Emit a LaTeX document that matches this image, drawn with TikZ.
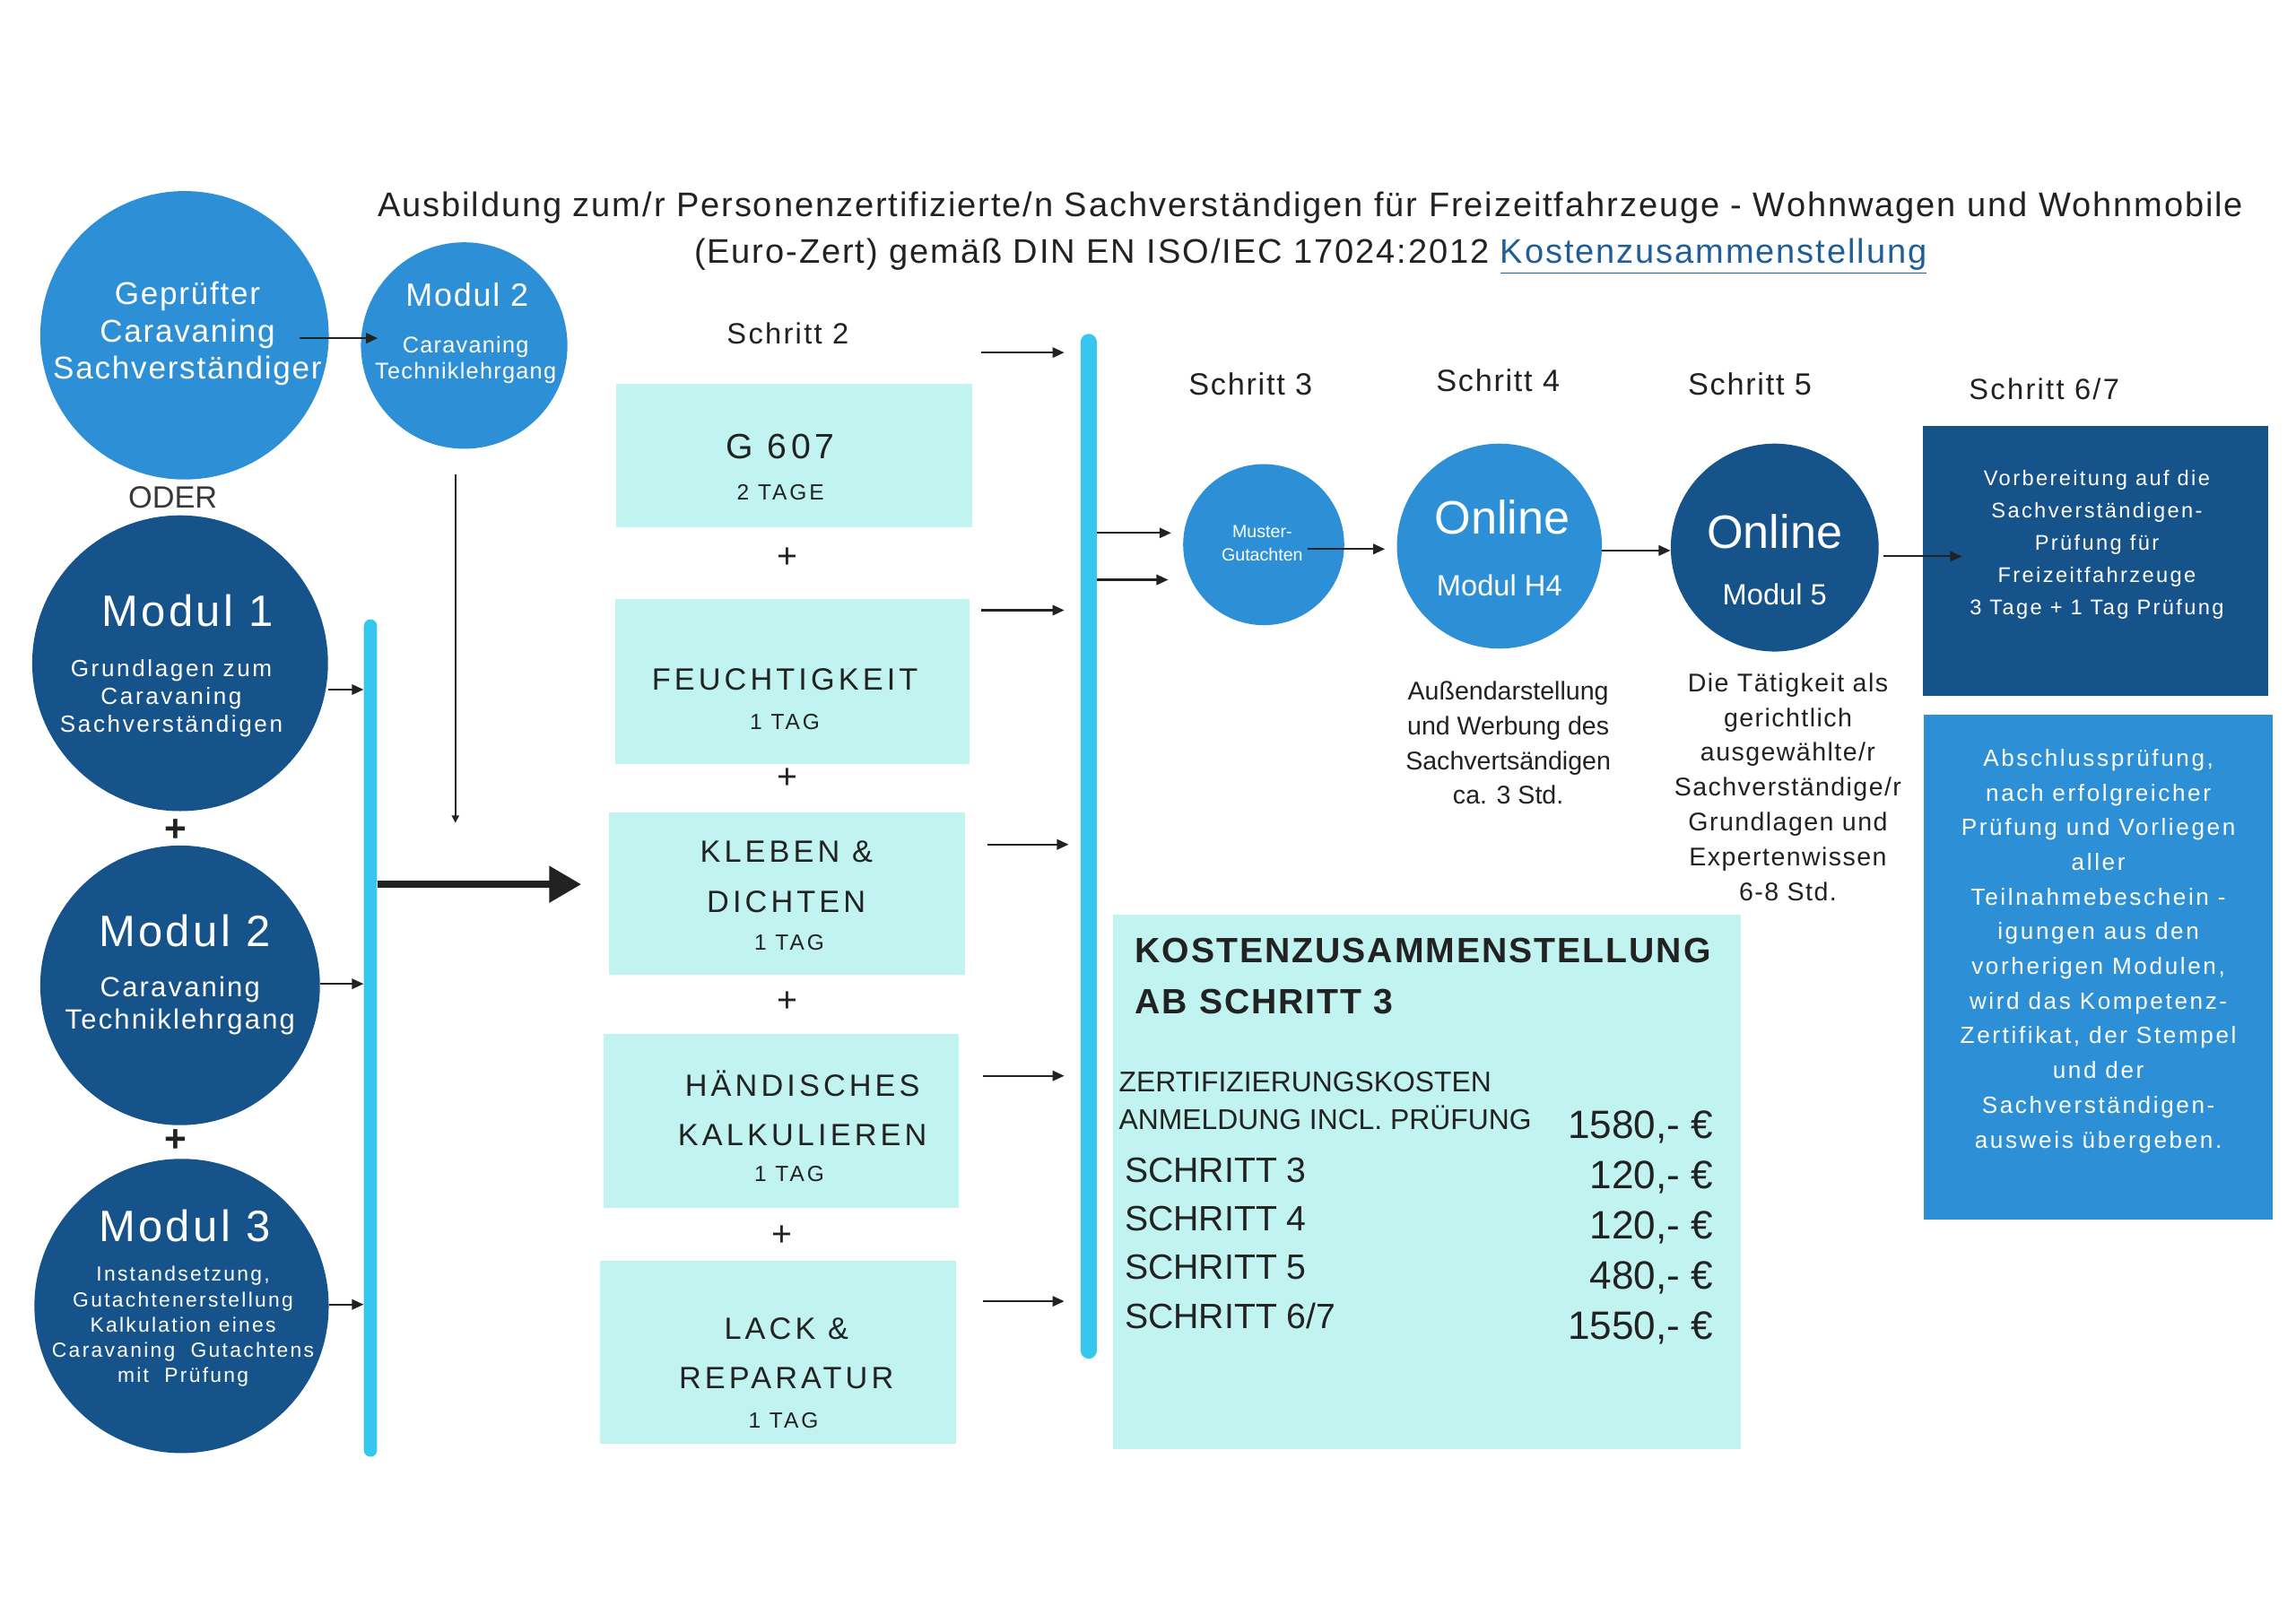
\documentclass[tikz,border=0pt]{standalone}
\usepackage{fontspec}
\setmainfont{Liberation Sans}
\newfontfamily\lsA[LetterSpace=5]{Liberation Sans}
\newfontfamily\lsB[LetterSpace=7]{Liberation Sans}
\newfontfamily\lsC[LetterSpace=10]{Liberation Sans}
\newfontfamily\lsD[LetterSpace=12]{Liberation Sans}
\usetikzlibrary{arrows.meta,calc}
\definecolor{midblue}{HTML}{2D90D6}
\definecolor{darkblue}{HTML}{15538A}
\definecolor{barcyan}{HTML}{36C6EE}
\definecolor{lightcyan}{HTML}{C1F3F0}
\definecolor{linkblue}{HTML}{1F5E99}
\definecolor{ink}{HTML}{222222}
\begin{document}
\begin{tikzpicture}[x=1pt,y=-1pt,
  arr/.style={-{Triangle[length=8pt,width=7pt]}, line width=1.3pt, draw=ink},
  mid/.style={circle, fill=midblue, inner sep=0},
  dark/.style={circle, fill=darkblue, inner sep=0},
  lbox/.style={rectangle, fill=lightcyan, inner sep=0},
  bar/.style={rectangle, fill=barcyan, inner sep=0},
  txt/.style={inner sep=0, align=center, text=ink},
  wtxt/.style={inner sep=0, align=center, text=white},
  plus/.style={txt, font=\fontsize{24}{26}\selectfont},
  boxt/.style={txt, font=\lsD\fontsize{21}{34}\selectfont},
  tagt/.style={txt, font=\lsD\fontsize{15}{17}\selectfont},
  steplbl/.style={txt, font=\lsA\fontsize{21}{24}\selectfont},
]
\useasboundingbox (0,0) rectangle (1568,1109);
\fill[white] (0,0) rectangle (1568,1109);

% title
\node[txt, font=\lsA\fontsize{23.3}{32}\selectfont] (title) at (895,159)
  {Ausbildung zum/r Personenzertifizierte/n Sachverständigen für Freizeitfahrzeuge - Wohnwagen und Wohnmobile\\
   (Euro-Zert) gemäß DIN EN ISO/IEC 17024:2012 \textcolor{linkblue}{\underline{Kostenzusammenstellung}}};

% top left circles
\node[mid, minimum size=197pt] (gep) at (126,229) {};
\node[wtxt, font=\lsA\fontsize{21.5}{25.5}\selectfont] (gept) at (128,228) {Geprüfter\\Caravaning\\Sachverständiger};
\node[mid, minimum size=141pt] (m2a) at (317,236) {};
\node[wtxt, font=\lsA\fontsize{22}{24}\selectfont] (m2at) at (319,201) {Modul 2};
\node[wtxt, font=\lsA\fontsize{15.5}{18}\selectfont] (m2as) at (318,246) {Caravaning\\Techniklehrgang};
\draw[arr] ([xshift=-20pt,yshift=-2pt]gep.east) -- ([xshift=-59pt,yshift=5pt]m2a.center);
\coordinate (m2down) at (311,562);
\draw[-{Triangle[length=5pt,width=5pt]}, line width=1pt, draw=ink] ([xshift=-6pt,yshift=-17pt]m2a.south) -- (m2down);

\node[txt, font=\fontsize{21}{24}\selectfont, text=black!78] (oder) at (118,340) {ODER};

% Modul circles
\node[dark, minimum size=202pt] (m1) at (123,453) {};
\node[wtxt, font=\lsB\fontsize{30}{32}\selectfont] (m1h) at (128,417) {Modul 1};
\node[wtxt, font=\lsC\fontsize{16}{19.2}\selectfont] (m1s) at (117,477) {Grundlagen zum\\Caravaning\\Sachverständigen};
\node[plus, font=\bfseries\fontsize{26}{28}\selectfont] (p1) at (120,567) {+};
\node[dark, minimum size=191pt] (m2) at (123,673) {};
\node[wtxt, font=\lsB\fontsize{30}{32}\selectfont] (m2h) at (126,636) {Modul 2};
\node[wtxt, font=\lsB\fontsize{19}{22}\selectfont] (m2s) at (123,687) {Caravaning\\Techniklehrgang};
\node[plus, font=\bfseries\fontsize{26}{28}\selectfont] (p2) at (120,779) {+};
\node[dark, minimum size=201pt] (m3) at (124,892) {};
\node[wtxt, font=\lsB\fontsize{30}{32}\selectfont] (m3h) at (126,837) {Modul 3};
\node[wtxt, font=\lsC\fontsize{14}{17.2}\selectfont] (m3s) at (125,906)
  {Instandsetzung,\\Gutachtenerstellung\\Kalkulation eines\\Caravaning\ \ Gutachtens\\mit\ \ Prüfung};

\node[bar, minimum width=9pt, minimum height=572pt, rounded corners=4.5pt] (bar1) at (253,709) {};
\draw[arr] ([yshift=-18pt]m1.east) -- ([yshift=-18pt]m1.east -| bar1.west);
\draw[arr] ([yshift=1pt]m2.east) -- ([yshift=1pt]m2.east -| bar1.west);
\draw[arr] ([yshift=1pt]m3.east) -- ([yshift=1pt]m3.east -| bar1.west);
\coordinate (bigend) at (397,604);
\draw[-{Triangle[length=22pt,width=24pt]}, line width=5pt, draw=ink] ([yshift=105pt]bar1.east) -- (bigend);

% Schritt 2 boxes
\node[txt, font=\lsB\fontsize{20}{22}\selectfont] (s2) at (538,228) {Schritt 2};
\node[lbox, minimum width=243pt, minimum height=98pt] (b1) at (542.5,311) {};
\node[txt, font=\lsD\fontsize{24}{26}\selectfont] (b1a) at (533,305) {G 607};
\node[tagt] (b1b) at (533,336) {2 TAGE};
\node[plus] (q1) at (538,381) {+};
\node[lbox, minimum width=242pt, minimum height=113pt] (b2) at (541,465.5) {};
\node[boxt] (b2a) at (536,464) {FEUCHTIGKEIT};
\node[tagt] (b2b) at (536,493) {1 TAG};
\node[plus] (q2) at (538,532) {+};
\node[lbox, minimum width=243pt, minimum height=111pt] (b3) at (537.5,610.5) {};
\node[boxt] (b3a) at (537,599) {KLEBEN \&\\DICHTEN};
\node[tagt] (b3b) at (539,644) {1 TAG};
\node[plus] (q3) at (538,684) {+};
\node[lbox, minimum width=243pt, minimum height=119pt] (b4) at (533.5,765.5) {};
\node[boxt] (b4a) at (548,757) {HÄNDISCHES\\KALKULIEREN};
\node[tagt] (b4b) at (539,802) {1 TAG};
\node[plus] (q4) at (534,844) {+};
\node[lbox, minimum width=243pt, minimum height=125pt] (b5) at (531.5,923.5) {};
\node[boxt] (b5a) at (537,924.5) {LACK \&\\REPARATUR};
\node[tagt] (b5b) at (535,970) {1 TAG};

\node[bar, minimum width=11pt, minimum height=700pt, rounded corners=5.5pt] (bar2) at (743.5,578) {};
\coordinate (a1) at ([xshift=6pt,yshift=21pt]b1.north east);
\coordinate (a2) at ([xshift=8pt,yshift=-8pt]b2.north east);
\coordinate (a3) at ([xshift=15pt,yshift=-22pt]b3.north east);
\coordinate (a4) at ([xshift=16pt,yshift=-29pt]b4.north east);
\coordinate (a5) at ([xshift=18pt,yshift=-28pt]b5.north east);
\draw[arr] (a1) -- ($(a1 -| bar2.west)+(-11,0)$);
\draw[arr] (a2) -- ($(a2 -| bar2.west)+(-11,0)$);
\draw[arr] (a3) -- ($(a3 -| bar2.west)+(-8,0)$);
\draw[arr] (a4) -- ($(a4 -| bar2.west)+(-11,0)$);
\draw[arr] (a5) -- ($(a5 -| bar2.west)+(-11,0)$);

% Schritt 3-5
\node[steplbl] (s3) at (854,262) {Schritt 3};
\node[steplbl] (s4) at (1023,260) {Schritt 4};
\node[steplbl] (s5) at (1195,262) {Schritt 5};
\node[txt, font=\lsB\fontsize{20}{22}\selectfont] (s6) at (1396,266) {Schritt 6/7};

\node[mid, minimum size=110pt] (mus) at (863,372) {};
\node[wtxt, font=\fontsize{12}{16}\selectfont] (must) at (862,371) {Muster-\\Gutachten};
\coordinate (c1) at (bar2.east |- 0,364);
\coordinate (c2) at (bar2.east |- 0,396);
\draw[arr] (c1) -- ($(c1 -| mus.west)+(-8,0)$);
\draw[arr] (c2) -- ($(c2 -| mus.west)+(-10,0)$);

\node[mid, minimum size=140pt] (h4) at (1024,373) {};
\node[wtxt, font=\fontsize{32}{34}\selectfont] (h4a) at (1026,353) {Online};
\node[wtxt, font=\fontsize{20}{22}\selectfont] (h4b) at (1024,400) {Modul H4};
\coordinate (d1) at ([xshift=30pt,yshift=-3pt]mus.center);
\draw[arr] (d1) -- ($(d1 -| h4.west)+(-8,0)$);

\node[dark, minimum size=142pt] (m5) at (1212,374) {};
\node[wtxt, font=\fontsize{32}{34}\selectfont] (m5a) at (1212,363) {Online};
\node[wtxt, font=\fontsize{20}{22}\selectfont] (m5b) at (1212,406) {Modul 5};
\draw[arr] ([yshift=-3pt]h4.east) -- ([yshift=-3pt]h4.east -| m5.west);

\node[txt, font=\fontsize{17.5}{23.7}\selectfont] (h4d) at (1030,507.5)
  {Außendarstellung\\und Werbung des\\Sachvertsändigen\\ca. 3 Std.};
\node[txt, font=\lsA\fontsize{17.5}{23.8}\selectfont] (m5d) at (1221,537.5)
  {Die Tätigkeit als\\gerichtlich\\ausgewählte/r\\Sachverständige/r\\Grundlagen und\\Expertenwissen\\6-8 Std.};

% Schritt 6/7 boxes
\node[rectangle, fill=darkblue, inner sep=0, minimum width=236pt, minimum height=184pt] (s67) at (1431,383) {};
\node[wtxt, font=\lsC\fontsize{14.5}{22}\selectfont] (s67t) at (1432,372)
  {Vorbereitung auf die\\Sachverständigen-\\Prüfung für\\Freizeitfahrzeuge\\3 Tage + 1 Tag Prüfung};
\coordinate (e1) at ([xshift=3pt,yshift=-6pt]m5.east);
\draw[arr] (e1) -- ($(e1 -| s67.west)+(27,0)$);

\node[rectangle, fill=midblue, inner sep=0, minimum width=238pt, minimum height=345pt] (fin) at (1433,660.5) {};
\node[wtxt, font=\lsC\fontsize{16}{23.7}\selectfont] (fint) at (1433,649.5)
  {Abschlussprüfung,\\nach erfolgreicher\\Prüfung und Vorliegen\\aller\\Teilnahmebeschein -\\igungen aus den\\vorherigen Modulen,\\wird das Kompetenz-\\Zertifikat, der Stempel\\und der\\Sachverständigen-\\ausweis übergeben.};

% cost box
\node[lbox, minimum width=429pt, minimum height=365pt] (cost) at (974.5,807.5) {};
\node[txt, align=left, anchor=west, font=\lsA\bfseries\fontsize{24}{35}\selectfont] (costh) at (775,666.5)
  {KOSTENZUSAMMENSTELLUNG\\AB SCHRITT 3};
\node[txt, align=left, anchor=west, font=\fontsize{19.5}{26}\selectfont] (costz) at (764,752)
  {ZERTIFIZIERUNGSKOSTEN\\ANMELDUNG INCL. PRÜFUNG};
\node[txt, align=left, anchor=west, font=\fontsize{24}{33.3}\selectfont] (costs) at (768,849)
  {SCHRITT 3\\SCHRITT 4\\SCHRITT 5\\SCHRITT 6/7};
\node[txt, align=right, anchor=east, font=\fontsize{27}{34.2}\selectfont] (costp) at (1170,838.5)
  {1580,- €\\120,- €\\120,- €\\480,- €\\1550,- €};
\end{tikzpicture}
\end{document}
